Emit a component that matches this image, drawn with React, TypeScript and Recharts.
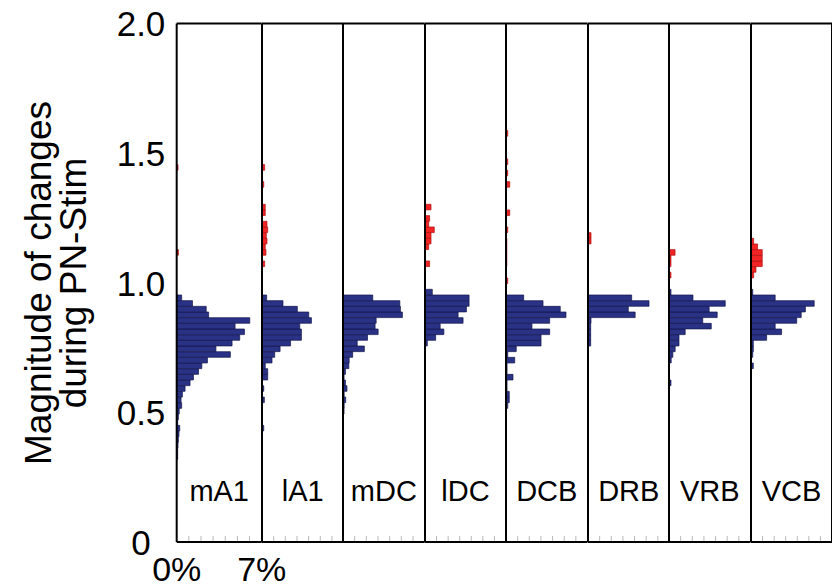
import { Bar, BarChart, ReferenceLine, XAxis, YAxis } from "recharts";

const FONT = '"Liberation Sans", Arial, Helvetica, sans-serif';
const BLUE = "#2a3286";
const BLUE_EDGE = "#12164a";
const RED = "#f02424";
const RED_EDGE = "#b01010";

// histogram bins on the magnitude axis
const BIN_WIDTH = 0.02187;
const TOP_BLUE_BIN = 0.9637; // centre of the highest bin holding blue counts
const N_BLUE_BINS = 30;
const N_RED_BINS = 28;

const Y_TICKS = [0, 0.5, 1, 1.5, 2];
const Y_TICK_LABELS = ["0", "0.5", "1.0", "1.5", "2.0"];
const X_TICKS = [0, 1, 2, 3, 4, 5, 6, 7];
const X_TICK_LABELS = ["0%", "", "", "", "", "", "", "7%"];

const regions = ["mA1", "lA1", "mDC", "lDC", "DCB", "DRB", "VRB", "VCB"];

// % of units per bin. blue: from 0.964 downward, red: from 0.986 upward
const mA1Blue = [0, 0.41, 1.3, 2.43, 2.63, 6.02, 4.81, 5.58, 5.19, 4.56, 3.23, 4.42, 2.53, 2.07, 1.8, 1.38, 1.1, 0.69, 0.47, 0.36, 0.41, 0.21, 0.14, 0.08, 0.25, 0.19, 0.14, 0.11, 0.08, 0.08];
const mA1Red = [0, 0, 0, 0, 0, 0, 0.14, 0, 0, 0, 0, 0, 0, 0, 0, 0, 0, 0, 0, 0, 0, 0.11];

const lA1Blue = [0, 0.4, 1.8, 3.03, 4.01, 4.24, 3.24, 3.38, 3.38, 2.45, 1.55, 1.09, 0.86, 0.28, 0.49, 0.49, 0, 0.15, 0, 0.2, 0, 0, 0, 0, 0.15];
const lA1Red = [0, 0, 0, 0, 0.23, 0, 0.34, 0.28, 0.43, 0.37, 0.49, 0.43, 0, 0.28, 0.28, 0, 0, 0, 0.15, 0, 0, 0.23];

const mDCBlue = [0, 2.55, 4.87, 4.92, 5.09, 2.84, 2.75, 3.01, 2.1, 1.22, 1.83, 0.83, 0.53, 0.5, 0.21, 0.09, 0.21, 0.34, 0.1, 0.23, 0.1, 0.09];
const mDCRed: number[] = [];

const lDCBlue = [0.63, 3.81, 3.81, 3.58, 2.86, 3.29, 1.31, 1.63, 0.92, 0.2];
const lDCRed = [0, 0, 0, 0, 0.4, 0, 0, 0.32, 0.52, 0.52, 0.8, 0.32, 0.4, 0, 0.52];

const DCBBlue = [0, 1.52, 3.18, 4.66, 5.15, 3.75, 2.23, 3.75, 3.01, 3.01, 0.88, 0.15, 0.75, 0.09, 0.09, 0.6, 0.09, 0.09, 0.28, 0.28, 0.15];
const DCBRed = [0, 0.15, 0, 0, 0.07, 0.07, 0.07, 0.07, 0.07, 0, 0.15, 0, 0, 0.32, 0, 0, 0, 0, 0.32, 0, 0.15, 0, 0.15, 0, 0, 0, 0, 0.15];

const DRBBlue = [0, 3.75, 5.24, 3.46, 4.05, 0.26, 0.23, 0.23, 0.23, 0.23];
const DRBRed = [0, 0, 0, 0, 0, 0, 0, 0, 0.26, 0.26];

const VRBBlue = [0.17, 2.06, 4.83, 3.45, 4.14, 2.9, 3.63, 1.39, 0.86, 0.86, 0.53, 0.33, 0.19, 0, 0, 0, 0.17];
const VRBRed = [0, 0, 0.17, 0, 0.17, 0.17, 0.52];

const VCBBlue = [0.15, 2.09, 5.46, 4.7, 4.34, 3.95, 2.09, 2.64, 1.35, 0.2, 0.2, 0.15, 0, 0.2];
const VCBRed = [0, 0, 0.23, 0.43, 0.97, 0.97, 0.97, 0.57, 0.23];

const blueByRegion = [mA1Blue, lA1Blue, mDCBlue, lDCBlue, DCBBlue, DRBBlue, VRBBlue, VCBBlue];
const redByRegion = [mA1Red, lA1Red, mDCRed, lDCRed, DCBRed, DRBRed, VRBRed, VCBRed];

// layout (page px)
const EDGES = [176.7, 261.7, 343.3, 425, 506, 587.5, 669, 750.5, 831.5];
const H = 588;
const TOP = 23.5;
const BOTTOM = 542;
const PAD = 3;

function buildRows(blue: number[], red: number[]) {
  const rows: { y: number; blue: number; red: number }[] = [];
  for (let i = N_BLUE_BINS - 1; i >= 0; i--) {
    rows.push({ y: TOP_BLUE_BIN - i * BIN_WIDTH, blue: blue[i] ?? 0, red: 0 });
  }
  for (let j = 0; j < N_RED_BINS; j++) {
    rows.push({ y: TOP_BLUE_BIN + (j + 1) * BIN_WIDTH, blue: 0, red: red[j] ?? 0 });
  }
  return rows;
}

function BottomTick(props: any) {
  const { x, payload, showLabel } = props;
  const v = payload.value;
  if (v > 0 && v < 7) {
    return <line x1={x} x2={x} y1={BOTTOM - 1} y2={BOTTOM - 6} stroke="#b8b8b8" strokeWidth={1} />;
  }
  if (!showLabel) return <g />;
  return (
    <text x={x} y={581} textAnchor="middle" fontSize={34} fontFamily={FONT} fill="#000">
      {X_TICK_LABELS[X_TICKS.indexOf(v)]}
    </text>
  );
}

function TopTick(props: any) {
  const { x, payload } = props;
  const v = payload.value;
  if (v > 0 && v < 7) {
    return <line x1={x} x2={x} y1={TOP + 1} y2={TOP + 6} stroke="#b8b8b8" strokeWidth={1} />;
  }
  return <g />;
}

function YTick(props: any) {
  const { y, payload } = props;
  return (
    <text x={141} y={y} dy={13} textAnchor="middle" fontSize={35} fontFamily={FONT} fill="#000">
      {Y_TICK_LABELS[Y_TICKS.indexOf(payload.value)]}
    </text>
  );
}

function PanelName({ labelX, labelText }: { labelX: number; labelText: string }) {
  return (
    <text x={labelX} y={501} textAnchor="middle" fontSize={29} fontFamily={FONT} fill="#000">
      {labelText}
    </text>
  );
}

function YTitle() {
  return (
    <text transform="rotate(-90)" textAnchor="middle" fontSize={37} fontFamily={FONT} fill="#000">
      <tspan x={-283} y={51}>Magnitude of changes</tspan>
      <tspan x={-283} y={86}>during PN-Stim</tspan>
    </text>
  );
}

function Panel({ idx }: { idx: number }) {
  const first = idx === 0;
  const last = idx === regions.length - 1;
  const left = EDGES[idx];
  const right = EDGES[idx + 1];
  const plotW = right - left;
  const chartLeft = first ? 0 : left - PAD;
  const marginLeft = first ? 0 : PAD;
  const marginRight = first ? 32 : last ? PAD : 0;
  const width = right - chartLeft + marginRight;
  const data = buildRows(blueByRegion[idx], redByRegion[idx]);
  const nameX = (first ? left : PAD) + plotW / 2;

  return (
    <div style={{ position: "absolute", left: chartLeft, top: 0 }}>
      <BarChart
        width={width}
        height={H}
        data={data}
        layout="vertical"
        margin={{ top: TOP, right: marginRight, bottom: 0, left: marginLeft }}
        barCategoryGap={0}
      >
        <XAxis
          type="number"
          domain={[0, 7]}
          ticks={X_TICKS}
          interval={0}
          orientation="bottom"
          height={H - BOTTOM}
          tickSize={0}
          tickMargin={0}
          tickLine={false}
          axisLine={false}
          tick={(p: any) => <BottomTick {...p} showLabel={first} />}
          label={<PanelName labelX={nameX} labelText={regions[idx]} />}
        />
        <XAxis
          xAxisId="top"
          type="number"
          domain={[0, 7]}
          ticks={X_TICKS}
          interval={0}
          orientation="top"
          height={0}
          tickSize={0}
          tickMargin={0}
          tickLine={false}
          axisLine={false}
          tick={(p: any) => <TopTick {...p} />}
        />
        <YAxis
          type="number"
          dataKey="y"
          domain={[0, 2]}
          reversed
          ticks={Y_TICKS}
          interval={0}
          hide={!first}
          width={first ? left : 0}
          axisLine={false}
          tickLine={false}
          tick={first ? (p: any) => <YTick {...p} /> : false}
          label={first ? <YTitle /> : undefined}
        />
        <Bar dataKey="blue" stackId="h" fill={BLUE} stroke={BLUE_EDGE} strokeWidth={0.7} barSize={5.6} isAnimationActive={false} />
        <Bar dataKey="red" stackId="h" fill={RED} stroke={RED_EDGE} strokeWidth={0.7} barSize={5.6} isAnimationActive={false} />
        <ReferenceLine y={0} stroke="#000" strokeWidth={2} />
        <ReferenceLine y={2} stroke="#000" strokeWidth={2} />
        <ReferenceLine x={0} stroke="#000" strokeWidth={2} />
        {last && <ReferenceLine x={7} stroke="#000" strokeWidth={2} />}
      </BarChart>
    </div>
  );
}

export default function App() {
  return (
    <div style={{ position: "absolute", left: 0, top: 0, width: 832, height: 588, background: "#fff", overflow: "hidden" }}>
      {regions.map((r, i) => (
        <Panel key={r} idx={i} />
      ))}
    </div>
  );
}
